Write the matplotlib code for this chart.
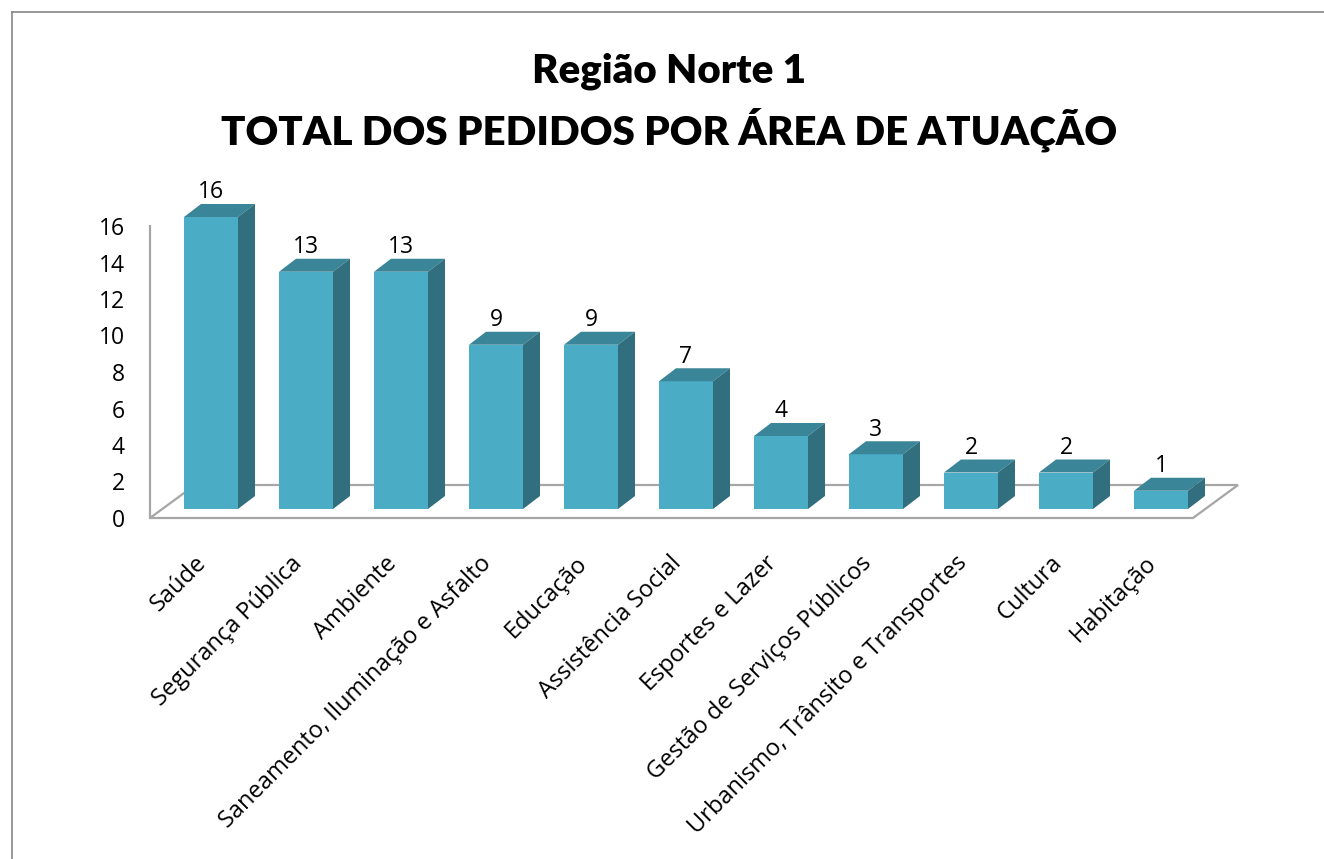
import numpy as np
import matplotlib
matplotlib.use("Agg")
import matplotlib.pyplot as plt
from matplotlib.patches import Polygon
from matplotlib.lines import Line2D

categorias = ["Saúde", "Segurança Pública", "Ambiente",
              "Saneamento, Iluminação e Asfalto", "Educação",
              "Assistência Social", "Esportes e Lazer",
              "Gestão de Serviços Públicos",
              "Urbanismo, Trânsito e Transportes", "Cultura", "Habitação"]
pedidos = [16, 13, 13, 9, 9, 7, 4, 3, 2, 2, 1]
yticks = list(range(0, 17, 2))

W, H = 1324, 859
PX_X = 95.0     # px per category
PX_Y = 18.25    # px per unit
X0 = 211        # px centre of first bar
Y0 = 518        # px of value 0 on axis

c_front = "#4bacc6"
c_top = "#3a8597"
c_side = "#316e7e"
c_grid = "#a6a6a6"

plt.rcParams["font.family"] = ["Open Sans", "DejaVu Sans"]
fig = plt.figure(figsize=(W / 100, H / 100), dpi=100)

left_px, right_px, top_px = 150, 1240, 200
ax = fig.add_axes([left_px / W, (H - Y0) / H, (right_px - left_px) / W, (Y0 - top_px) / H])
ax.set_xlim((left_px - X0) / PX_X, (right_px - X0) / PX_X)
ax.set_ylim(0, (Y0 - top_px) / PX_Y)
ax.patch.set_alpha(0)

x = np.arange(len(pedidos))
bw = 54 / PX_X
dx, dy = 17 / PX_X, 13 / PX_Y
base = 9 / PX_Y

# floor
fdx, fdy = 45 / PX_X, 33 / PX_Y
fl, fr = (150 - X0) / PX_X, (1193 - X0) / PX_X
floor = Polygon([(fl, 0), (fr, 0), (fr + fdx, fdy), (fl + fdx, fdy)], closed=True,
                facecolor="white", edgecolor=c_grid, linewidth=1.6, clip_on=False, zorder=1)
ax.add_patch(floor)

# bars
ax.bar(x, pedidos, width=bw, bottom=base, color=c_front, zorder=3)
for xi, v in zip(x, pedidos):
    top = base + v
    l, r = xi - bw / 2, xi + bw / 2
    ax.add_patch(Polygon([(l, top), (r, top), (r + dx, top + dy), (l + dx, top + dy)],
                         closed=True, facecolor=c_top, edgecolor="none", zorder=3, clip_on=False))
    ax.add_patch(Polygon([(r, base), (r + dx, base + dy), (r + dx, top + dy), (r, top)],
                         closed=True, facecolor=c_side, edgecolor="none", zorder=3, clip_on=False))
    ax.annotate(str(v), (xi, top + dy), xytext=(0, 4), textcoords="offset points",
                ha="center", va="baseline", fontsize=16.5, color="black", zorder=5)

for s in ["top", "right", "bottom"]:
    ax.spines[s].set_visible(False)
ax.spines["left"].set_color(c_grid)
ax.spines["left"].set_linewidth(1.6)
ax.spines["left"].set_bounds(0, 16)
ax.spines["left"].set_zorder(0.5)

ax.set_yticks(yticks)
ax.tick_params(axis="y", length=0, pad=18, labelsize=16.5)
ax.set_xticks(x - 0.17)
ax.set_xticklabels(categorias, rotation=45, ha="right", rotation_mode="anchor", fontsize=17)
ax.tick_params(axis="x", length=0, pad=24)

# title
fig.text(669 / W, 1 - 82 / H, "Região Norte 1", ha="center", va="baseline",
         fontsize=29, fontweight="heavy", family=["Lato", "DejaVu Sans"])
fig.text(669 / W, 1 - 145 / H, "TOTAL DOS PEDIDOS POR ÁREA DE ATUAÇÃO", ha="center",
         va="baseline", fontsize=29, fontweight="heavy", family=["Lato", "DejaVu Sans"])

# chart border
fig.add_artist(Line2D([12 / W, 1.01], [1 - 12 / H] * 2, color="#868686", linewidth=1.2))
fig.add_artist(Line2D([12 / W] * 2, [-0.01, 1 - 12 / H], color="#868686", linewidth=1.2))

fig.savefig("out.png", dpi=100)
